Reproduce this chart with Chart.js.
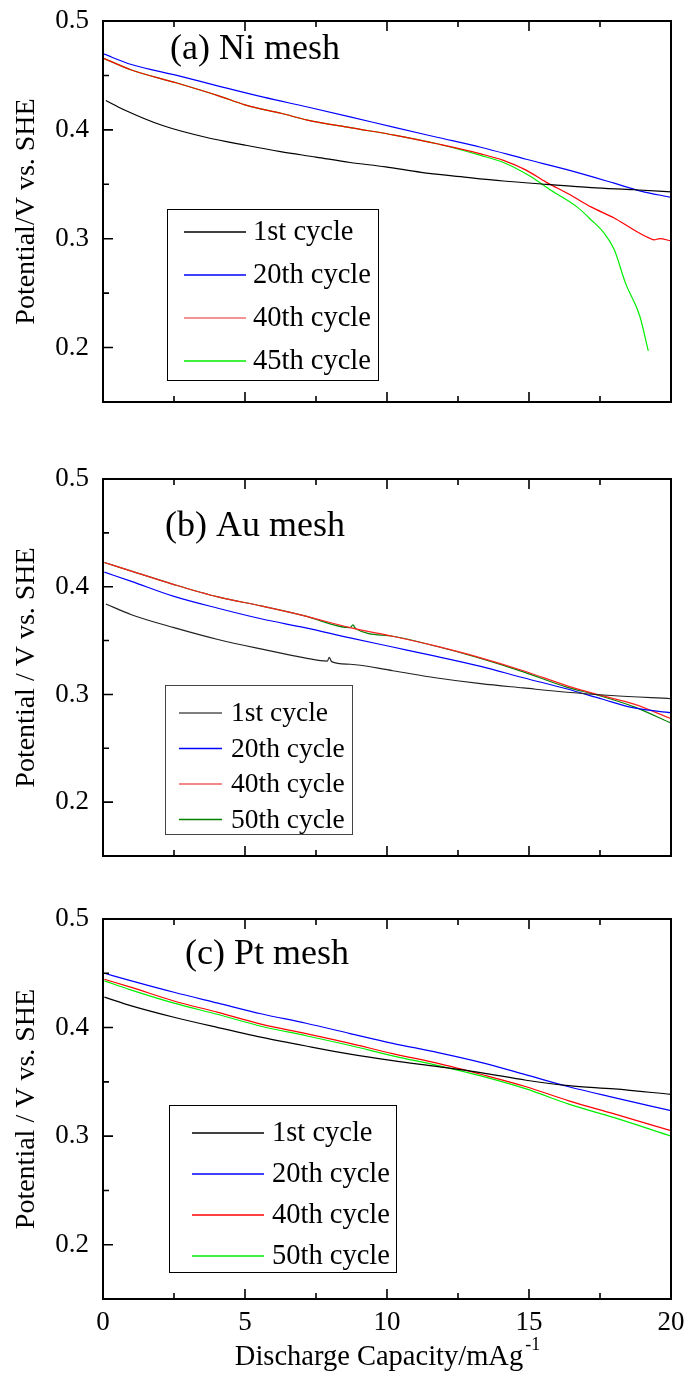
<!DOCTYPE html>
<html>
<head>
<meta charset="UTF-8">
<title>Discharge curves - Ni, Au, Pt mesh</title>
<script src="https://cdn.jsdelivr.net/npm/chart.js"></script>
<style>
  body { margin: 0; background: #fff; }
  #wrap { position: relative; width: 687px; height: 1376px; }
  #wrap canvas { position: absolute; left: 0; }
</style>
<script>
// axis ticks (values)
const xTickValues = [0, 5, 10, 15, 20];
const xMinorValues = [2.5, 7.5, 12.5, 17.5];
const yTickValues = [0.2, 0.3, 0.4, 0.5];
const yMinorValues = [0.25, 0.35, 0.45];

// (a) Ni mesh
const niLabels = ['1st cycle', '20th cycle', '40th cycle', '45th cycle'];
const ni1X = [0.1, 0.7, 2.1, 3.65, 5.0, 6.25, 7.5, 8.7, 9.95, 11.2, 12.6, 14.1, 15.6, 17.2, 18.7, 20];
const ni1Y = [0.427, 0.419, 0.404, 0.393, 0.386, 0.380, 0.375, 0.370, 0.366, 0.361, 0.357, 0.353, 0.350, 0.347, 0.345, 0.343];
const ni20X = [0, 1.0, 2.6, 4.1, 5.65, 7.2, 8.7, 10.3, 11.8, 13.3, 14.9, 16.4, 18.0, 18.9, 20];
const ni20Y = [0.470, 0.460, 0.450, 0.440, 0.430, 0.421, 0.412, 0.402, 0.393, 0.384, 0.373, 0.363, 0.351, 0.344, 0.338];
const ni40X = [0, 1.0, 2.6, 4.1, 5.0, 6.3, 7.2, 8.7, 10.3, 11.8, 13.3, 14.1, 14.9, 15.6, 16.4, 17.2, 18.0, 18.7, 19.2, 19.4, 19.6, 20];
const ni40Y = [0.466, 0.455, 0.443, 0.431, 0.423, 0.415, 0.409, 0.402, 0.395, 0.387, 0.378, 0.372, 0.363, 0.352, 0.341, 0.329, 0.319, 0.308, 0.301, 0.299, 0.300, 0.298];
const ni45X = [0, 1.0, 2.6, 4.1, 5.0, 6.3, 7.2, 8.7, 10.3, 11.8, 13.3, 14.1, 15.0, 15.8, 16.7, 17.2, 17.65, 18.0, 18.4, 18.9, 19.2];
const ni45Y = [0.466, 0.455, 0.443, 0.431, 0.423, 0.415, 0.409, 0.402, 0.395, 0.387, 0.3765, 0.370, 0.358, 0.344, 0.329, 0.317, 0.305, 0.290, 0.259, 0.229, 0.197];

// (b) Au mesh
const auLabels = ['1st cycle', '20th cycle', '40th cycle', '50th cycle'];
const au1X = [0.1, 1.0, 2.5, 4.05, 5.6, 7.1, 7.9, 7.97, 8.05, 8.7, 10.2, 11.7, 13.3, 14.8, 16.35, 17.9, 20];
const au1Y = [0.384, 0.374, 0.362, 0.351, 0.342, 0.334, 0.331, 0.3345, 0.3305, 0.328, 0.322, 0.3155, 0.310, 0.306, 0.302, 0.299, 0.296];
const au20X = [0.05, 1.0, 2.5, 4.05, 5.6, 7.1, 8.7, 10.2, 11.7, 13.3, 14.8, 16.35, 17.6, 18.7, 20];
const au20Y = [0.4135, 0.405, 0.391, 0.380, 0.370, 0.362, 0.3525, 0.344, 0.3355, 0.326, 0.3155, 0.305, 0.2955, 0.2875, 0.283];
const au40X = [0.05, 1.0, 2.5, 4.05, 5.6, 7.1, 8.7, 10.2, 11.7, 13.3, 14.8, 16.35, 17.4, 18.7, 20];
const au40Y = [0.4225, 0.4145, 0.402, 0.3905, 0.382, 0.373, 0.362, 0.354, 0.345, 0.334, 0.322, 0.308, 0.300, 0.291, 0.2775];
const au50X = [0.05, 1.0, 2.5, 4.05, 5.6, 7.1, 8.7, 8.8, 8.9, 10.2, 11.7, 13.3, 14.8, 16.35, 17.4, 18.7, 20];
const au50Y = [0.4225, 0.4145, 0.402, 0.3905, 0.382, 0.373, 0.362, 0.3645, 0.361, 0.354, 0.345, 0.3335, 0.321, 0.3065, 0.2995, 0.2885, 0.2735];

// (c) Pt mesh
const ptLabels = ['1st cycle', '20th cycle', '40th cycle', '50th cycle'];
const ptX = [0.05, 1.0, 2.5, 4.05, 5.6, 7.15, 8.7, 10.2, 11.8, 13.3, 14.9, 16.4, 18.0, 20];
const pt1Y = [0.428, 0.420, 0.4095, 0.400, 0.391, 0.383, 0.3755, 0.3695, 0.364, 0.3585, 0.3515, 0.3465, 0.3435, 0.3385];
const pt20Y = [0.450, 0.443, 0.4325, 0.4225, 0.4125, 0.404, 0.3945, 0.3855, 0.377, 0.368, 0.3565, 0.3455, 0.3355, 0.3235];
const pt40Y = [0.4445, 0.437, 0.4245, 0.414, 0.403, 0.3945, 0.3855, 0.376, 0.367, 0.357, 0.3455, 0.3325, 0.3205, 0.305];
const pt50Y = [0.443, 0.4345, 0.4225, 0.412, 0.401, 0.3925, 0.3835, 0.374, 0.365, 0.3555, 0.3435, 0.3295, 0.317, 0.300];

const SERIF = '"Liberation Serif", "DejaVu Serif", serif';

function pts(xs, ys) {
  return xs.map((x, i) => ({ x: x, y: ys[i] }));
}

// frame, inward ticks, legend box, panel label, x title
const panelDecor = {
  id: 'panelDecor',
  afterDraw(chart, args, o) {
    const ctx = chart.ctx;
    const a = chart.chartArea;
    const xs = chart.scales.x, ys = chart.scales.y;
    ctx.save();
    ctx.strokeStyle = '#000';
    ctx.lineWidth = 2;
    ctx.strokeRect(a.left, a.top, a.right - a.left, a.bottom - a.top);
    ctx.lineWidth = 1.6;
    ctx.beginPath();
    xTickValues.concat(xMinorValues).forEach(v => {
      const len = xTickValues.includes(v) ? 10 : 6;
      const px = xs.getPixelForValue(v);
      ctx.moveTo(px, a.bottom); ctx.lineTo(px, a.bottom - len);
      ctx.moveTo(px, a.top); ctx.lineTo(px, a.top + len);
    });
    yTickValues.concat(yMinorValues).forEach(v => {
      const len = yTickValues.includes(v) ? 10 : 6;
      const py = ys.getPixelForValue(v);
      ctx.moveTo(a.left, py); ctx.lineTo(a.left + len, py);
    });
    ctx.stroke();

    // legend
    const L = o.legend;
    ctx.lineWidth = 1;
    ctx.strokeStyle = L.frameColor;
    ctx.strokeRect(L.x + 0.5, L.y + 0.5, L.w, L.h);
    ctx.font = L.size + 'px ' + SERIF;
    ctx.textBaseline = 'middle';
    ctx.textAlign = 'left';
    chart.data.datasets.forEach((ds, i) => {
      const ry = L.row0 + i * L.gap;
      ctx.strokeStyle = ds.legendColor || ds.borderColor;
      ctx.lineWidth = 1.5;
      ctx.beginPath();
      ctx.moveTo(L.line0, ry); ctx.lineTo(L.line1, ry);
      ctx.stroke();
      ctx.fillStyle = '#000';
      ctx.fillText(ds.label, L.textX, ry + 1);
    });

    // panel label
    ctx.font = o.tag.size + 'px ' + SERIF;
    ctx.fillText(o.tag.text, o.tag.x, o.tag.y);

    if (o.xTitle) {
      const t = o.xTitle;
      ctx.font = t.size + 'px ' + SERIF;
      ctx.textAlign = 'center';
      ctx.fillText(t.text, t.x, t.y);
      const w = ctx.measureText(t.text).width;
      ctx.font = t.supSize + 'px ' + SERIF;
      ctx.textAlign = 'left';
      ctx.fillText(t.sup, t.x + w / 2 + 2, t.y - 13);
    }
    ctx.restore();
  }
};

function makePanel(id, labels, series, colors, opt) {
  const datasets = series.map((s, i) => ({
    label: labels[i],
    data: s,
    borderColor: colors[i],
    legendColor: opt.legendColors ? opt.legendColors[i] : null,
    borderWidth: 1.2,
    pointRadius: 0,
    cubicInterpolationMode: 'monotone',
    fill: false
  }));
  new Chart(document.getElementById(id), {
    type: 'line',
    data: { datasets: datasets },
    plugins: [panelDecor],
    options: {
      responsive: false,
      animation: false,
      layout: { padding: { left: 0, right: 16, top: opt.top, bottom: 0 } },
      plugins: {
        legend: { display: false },
        tooltip: { enabled: false },
        panelDecor: { legend: opt.legend, tag: opt.tag, xTitle: opt.xTitle || null }
      },
      scales: {
        x: {
          type: 'linear',
          min: 0, max: 20,
          grid: { display: false, drawTicks: false },
          border: { display: false },
          afterBuildTicks: s => { s.ticks = xTickValues.map(v => ({ value: v })); },
          afterFit: s => { s.height = opt.bottom; s.paddingLeft = 0; s.paddingRight = 0; },
          ticks: {
            display: opt.showX,
            padding: 8,
            color: '#000',
            font: { family: SERIF, size: 27 },
            callback: v => String(v)
          }
        },
        y: {
          type: 'linear',
          min: 0.15, max: 0.5,
          grid: { display: false, drawTicks: false },
          border: { display: false },
          afterBuildTicks: s => { s.ticks = yTickValues.map(v => ({ value: v })); },
          afterFit: s => { s.width = 103; s.paddingTop = 0; s.paddingBottom = 0; },
          ticks: {
            padding: 14,
            color: '#000',
            font: { family: SERIF, size: 27 },
            callback: v => v.toFixed(1)
          },
          title: {
            display: true,
            text: opt.yTitle,
            color: '#000',
            font: { family: SERIF, size: 28 },
            padding: { top: 10, bottom: 0 }
          }
        }
      }
    }
  });
}

window.addEventListener('DOMContentLoaded', function () {
  makePanel('chartNi', niLabels,
    [pts(ni1X, ni1Y), pts(ni20X, ni20Y), pts(ni40X, ni40Y), pts(ni45X, ni45Y)],
    ['#000000', '#0000ff', '#ff0000', '#00ee00'],
    {
      top: 21, bottom: 38, showX: false,
      yTitle: 'Potential/V vs. SHE',
      legendColors: ['#000000', '#0000ff', '#f07070', '#00ee00'],
      legend: { x: 167, y: 209, w: 211, h: 171, row0: 232, gap: 43, line0: 184, line1: 246, textX: 253, size: 28.5, frameColor: '#000' },
      tag: { text: '(a) Ni mesh', x: 170, y: 50, size: 36 }
    });

  makePanel('chartAu', auLabels,
    [pts(au1X, au1Y), pts(au20X, au20Y), pts(au40X, au40Y), pts(au50X, au50Y)],
    ['#222222', '#0000ff', '#ff2020', '#008000'],
    {
      top: 29, bottom: 34, showX: false,
      yTitle: 'Potential / V vs. SHE',
      legendColors: ['#555555', '#0000ff', '#f06060', '#008000'],
      legend: { x: 165, y: 685 - 450, w: 187, h: 149, row0: 713 - 450, gap: 35.5, line0: 179, line1: 222, textX: 231, size: 27.5, frameColor: '#444' },
      tag: { text: '(b) Au mesh', x: 165, y: 527 - 450, size: 36 }
    });

  makePanel('chartPt', ptLabels,
    [pts(ptX, pt1Y), pts(ptX, pt20Y), pts(ptX, pt40Y), pts(ptX, pt50Y)],
    ['#000000', '#0000ff', '#ff0000', '#00ee00'],
    {
      top: 29, bottom: 77, showX: true,
      yTitle: 'Potential / V vs. SHE',
      legend: { x: 169, y: 1105 - 890, w: 227, h: 167, row0: 1133 - 890, gap: 41, line0: 192, line1: 264, textX: 272, size: 28.5, frameColor: '#000' },
      tag: { text: '(c) Pt mesh', x: 185, y: 955 - 890, size: 36 },
      xTitle: { text: 'Discharge Capacity/mAg', sup: '-1', x: 379, y: 1358 - 890, size: 28.5, supSize: 18 }
    });
});
</script>
</head>
<body>
<div id="wrap">
  <canvas id="chartNi" width="687" height="440" style="top:0px"></canvas>
  <canvas id="chartAu" width="687" height="440" style="top:450px"></canvas>
  <canvas id="chartPt" width="687" height="486" style="top:890px"></canvas>
</div>
</body>
</html>
